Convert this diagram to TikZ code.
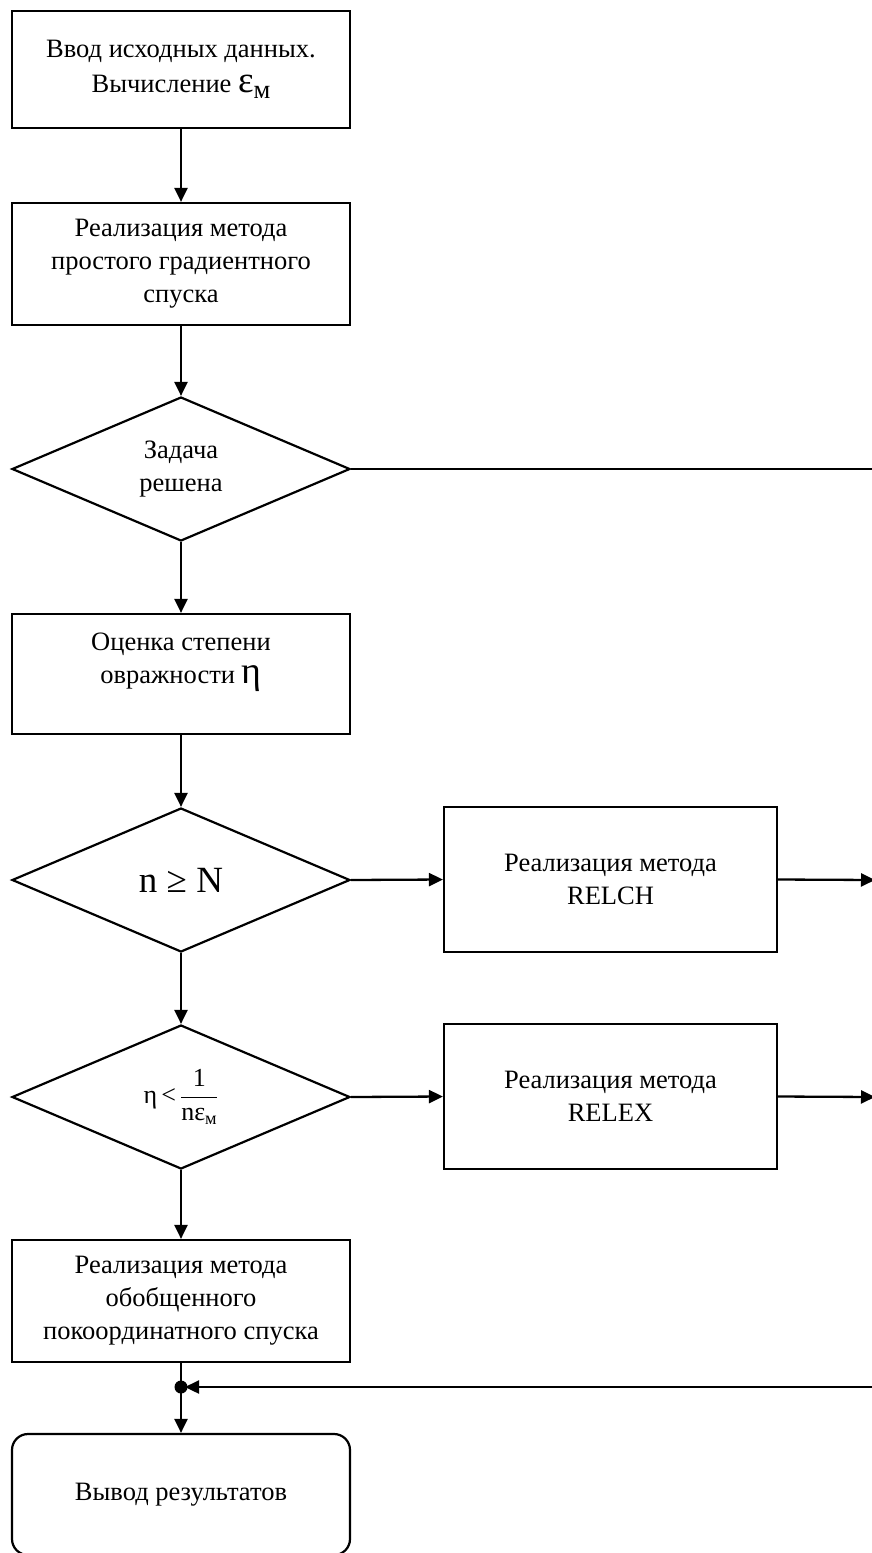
\documentclass[tikz,border=0pt]{standalone}
\usepackage{amsmath}
\usepackage{fontspec}
\setmainfont{Liberation Serif}
\usetikzlibrary{shapes.geometric,arrows.meta}
\begin{document}
\begin{tikzpicture}[x=1pt,y=-1pt,
  every node/.style={font=\fontsize{26.5}{33}\selectfont, align=center, inner sep=0pt},
  blk/.style={draw, line width=2.2pt, minimum width=338pt},
  dec/.style={draw, diamond, line width=2.2pt, minimum width=338pt, minimum height=144pt},
  term/.style={draw, rounded corners=16pt, line width=2.2pt, minimum width=338pt},
  arr/.style={line width=2.3pt, -{Triangle[length=14pt,width=13pt]}},
  ln/.style={line width=2.3pt}]
\useasboundingbox (0,0) rectangle (872,1553);

\node[blk, minimum height=117pt] (in) at (181,69.5)
  {Ввод исходных данных.\\[2pt]Вычисление {\fontsize{37}{37}\selectfont ε}\raisebox{-0.25em}{м}};
\node[blk, minimum height=122pt] (grad) at (181,264)
  {Реализация метода\\простого градиентного\\спуска};
\node[dec] (solved) at (181,469) {Задача\\решена};
\node[blk, minimum height=120pt] (est) at (181,674) {};
\node (estT) at ([yshift=12pt]est.center)
  {Оценка степени\\овражности {\fontsize{38}{38}\selectfont η}};
\node[dec] (cmpN) at (181,880) {\fontsize{37}{37}\selectfont n ≥ N};
\node[blk, minimum width=333pt, minimum height=145pt] (relch) at (610.5,879.5)
  {Реализация метода\\RELCH};
\node[dec] (cmpEta) at (181,1097)
  {\fontsize{26}{30}\selectfont $\text{η}\,\text{<}\,\dfrac{\text{1}}{\text{nε}_{\text{м}}}$};
\node[blk, minimum width=333pt, minimum height=145pt] (relex) at (610.5,1096.5)
  {Реализация метода\\RELEX};
\node[blk, minimum height=122pt] (coord) at (181,1301)
  {Реализация метода\\обобщенного\\покоординатного спуска};
\node[term, minimum height=121pt] (out) at (181,1494.5) {Вывод результатов};

\coordinate (J) at (181,1387);
\coordinate (R1) at (873,469);
\coordinate (R2) at (875,880);
\coordinate (R3) at (875,1097);
\coordinate (R4) at (873,1387);

\draw[arr] (in) -- (grad);
\draw[arr] (grad) -- (solved);
\draw[arr] (solved) -- (est);
\draw[arr] (est) -- (cmpN);
\draw[arr] (cmpN) -- (cmpEta);
\draw[arr] (cmpEta) -- (coord);
\draw[arr] (coord) -- (out);
\draw[ln] (solved.east) -- (R1);
\draw[arr] (cmpN.east) -- (relch.west);
\draw[arr] (relch.east) -- (R2);
\draw[arr] (cmpEta.east) -- (relex.west);
\draw[arr] (relex.east) -- (R3);
\draw[arr, shorten >=4pt] (R4) -- (J);
\fill (J) circle (6.5pt);
\end{tikzpicture}
\end{document}
